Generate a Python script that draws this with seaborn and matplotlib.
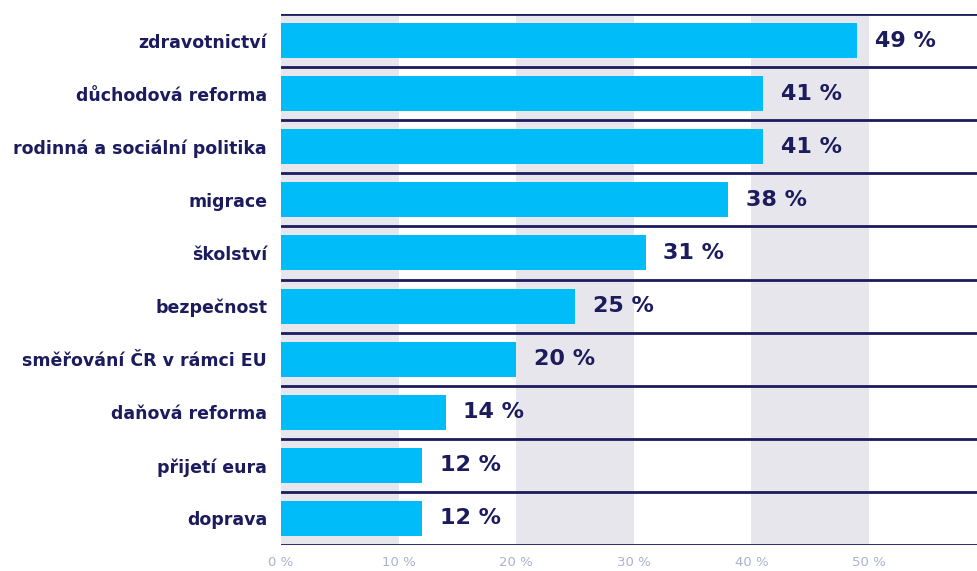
import matplotlib
matplotlib.use("Agg")
import matplotlib.pyplot as plt
import seaborn as sns
import pandas as pd

categories = ["zdravotnictví", "důchodová reforma", "rodinná a sociální politika",
              "migrace", "školství", "bezpečnost", "směřování ČR v rámci EU",
              "daňová reforma", "přijetí eura", "doprava"]
values = [49, 41, 41, 38, 31, 25, 20, 14, 12, 12]
tick_values = [0, 10, 20, 30, 40, 50]
tick_labels = ["0 %", "10 %", "20 %", "30 %", "40 %", "50 %"]

sns.set_theme(style="white")
plt.rcParams['font.family'] = ['DejaVu Sans']

navy = "#1b1b5e"
bar_color = "#00BDFA"
band_color = "#e6e6ec"

df = pd.DataFrame({"cat": categories, "val": values})

fig = plt.figure(figsize=(9.77, 5.71), dpi=100)
ax = fig.add_axes([281/977, 1 - 545/571, 1 - 281/977, (545 - 14)/571])

# background bands
for start in [0, 20, 40]:
    ax.axvspan(start, start + 10, color=band_color, zorder=0, lw=0)

sns.barplot(data=df, x="val", y="cat", color=bar_color, saturation=1,
            width=0.66, ax=ax, zorder=2, orient="h", linewidth=0)

n = len(categories)
ax.set_xlim(0, 696/11.76)
ax.set_ylim(n - 0.5, -0.5)

# row separators
for i in range(n + 1):
    ax.axhline(i - 0.5, color=navy, lw=2, zorder=3)

for i, v in enumerate(values):
    ax.text(v + 1.5, i, f"{v} %", va="center", ha="left", fontsize=16,
            fontweight="bold", color=navy, zorder=4)

ax.set_xticks(tick_values)
ax.set_xticklabels(tick_labels, color="#a9b2cf", fontsize=9.5)
ax.tick_params(axis="x", length=0, pad=8)
ax.tick_params(axis="y", length=0, pad=10)
for lbl in ax.get_yticklabels():
    lbl.set_fontsize(12.5)
    lbl.set_fontweight("bold")
    lbl.set_color(navy)
ax.set_xlabel("")
ax.set_ylabel("")
for s in ax.spines.values():
    s.set_visible(False)

fig.savefig("out.png", dpi=100, facecolor="white")
